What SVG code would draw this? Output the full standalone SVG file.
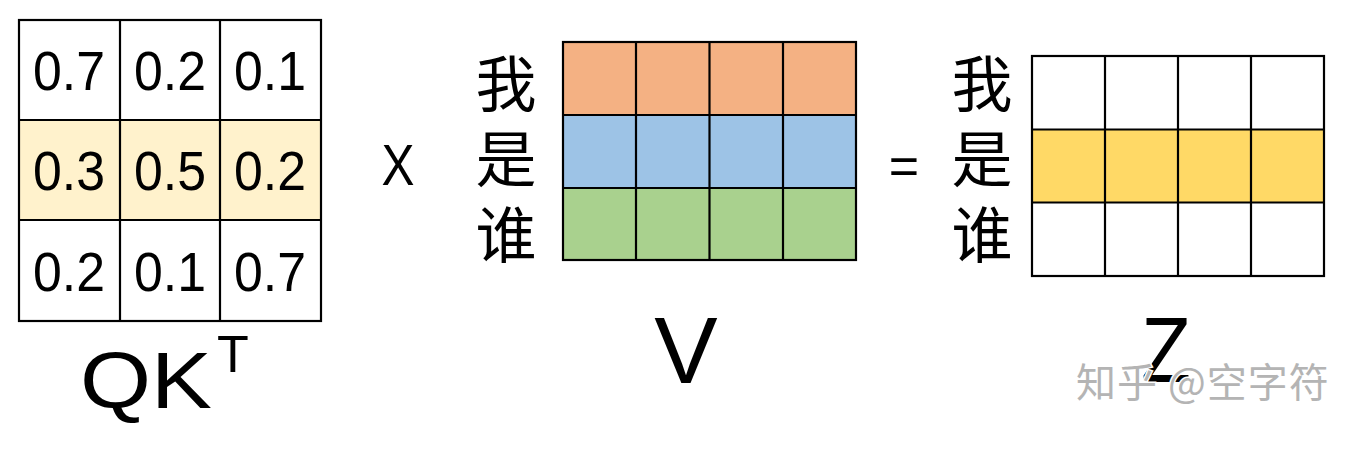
<svg xmlns="http://www.w3.org/2000/svg" width="1354" height="452" viewBox="0 0 1354 452">
<style>
.g{stroke:#000;stroke-width:2.2;}
.num{font-family:"Liberation Sans",Arial,sans-serif;font-size:56px;fill:#000;text-anchor:middle;}
.big{font-family:"Liberation Sans",Arial,sans-serif;fill:#000;}
.cjk{font-family:"Noto Sans CJK SC",sans-serif;font-size:61px;fill:#000;text-anchor:middle;}
.wm{font-family:"Noto Sans CJK SC",sans-serif;font-size:40px;fill:#b4b4b4;stroke:#fff;stroke-width:3;paint-order:stroke;letter-spacing:1px;}
</style>
<rect width="1354" height="452" fill="#fff"/>
<g id="qkt">
  <rect x="19" y="120" width="302" height="100" fill="#FFF2CC"/>
  <rect x="19" y="20" width="302" height="301" fill="none" class="g"/>
  <path class="g" fill="none" d="M120 20V321M220 20V321M19 120H321M19 220H321"/>
  <text class="num" x="69" y="90" textLength="72" lengthAdjust="spacingAndGlyphs">0.7</text>
  <text class="num" x="170" y="90" textLength="72" lengthAdjust="spacingAndGlyphs">0.2</text>
  <text class="num" x="270" y="90" textLength="72" lengthAdjust="spacingAndGlyphs">0.1</text>
  <text class="num" x="69" y="190" textLength="72" lengthAdjust="spacingAndGlyphs">0.3</text>
  <text class="num" x="170" y="190" textLength="72" lengthAdjust="spacingAndGlyphs">0.5</text>
  <text class="num" x="270" y="190" textLength="72" lengthAdjust="spacingAndGlyphs">0.2</text>
  <text class="num" x="69" y="291" textLength="72" lengthAdjust="spacingAndGlyphs">0.2</text>
  <text class="num" x="170" y="291" textLength="72" lengthAdjust="spacingAndGlyphs">0.1</text>
  <text class="num" x="270" y="291" textLength="72" lengthAdjust="spacingAndGlyphs">0.7</text>
  <text class="big" x="80" y="408" font-size="80" textLength="132" lengthAdjust="spacingAndGlyphs">QK</text>
  <text class="big" x="217" y="372" font-size="52">T</text>
</g>
<g id="times">
  <text class="big" x="398" y="185" font-size="58" text-anchor="middle" textLength="33" lengthAdjust="spacingAndGlyphs">X</text>
</g>
<g id="v">
  <rect x="563" y="42" width="293" height="73" fill="#F4B183"/>
  <rect x="563" y="115" width="293" height="73" fill="#9DC3E6"/>
  <rect x="563" y="188" width="293" height="72" fill="#A9D18E"/>
  <rect x="563" y="42" width="293" height="218" fill="none" class="g"/>
  <path class="g" fill="none" d="M636 42V260M709.5 42V260M783 42V260M563 115H856M563 188H856"/>
  <text class="cjk" x="506" y="107">我</text>
  <text class="cjk" x="506" y="182">是</text>
  <text class="cjk" x="506" y="258">谁</text>
  <text class="big" x="686" y="383" font-size="95" text-anchor="middle">V</text>
</g>
<g id="equals">
  <text class="big" x="904" y="184" font-size="52" text-anchor="middle">=</text>
</g>
<g id="z">
  <rect x="1032" y="129.5" width="292" height="73" fill="#FFD966"/>
  <rect x="1032" y="56" width="292" height="220" fill="none" class="g"/>
  <path class="g" fill="none" d="M1105 56V276M1178 56V276M1251 56V276M1032 129.5H1324M1032 202.5H1324"/>
  <text class="cjk" x="982" y="107">我</text>
  <text class="cjk" x="982" y="182">是</text>
  <text class="cjk" x="982" y="258">谁</text>
  <text class="big" x="1166" y="382" font-size="93" text-anchor="middle" textLength="50" lengthAdjust="spacingAndGlyphs">Z</text>
</g>
<g id="watermark">
  <text class="wm" x="1076" y="397">知乎 @空字符</text>
</g>
</svg>
